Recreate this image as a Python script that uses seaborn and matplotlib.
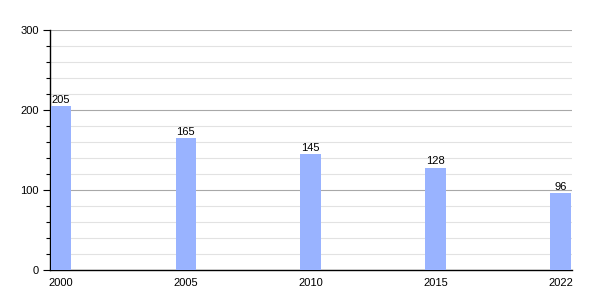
import matplotlib
matplotlib.use("Agg")
import matplotlib.pyplot as plt
import seaborn as sns
import pandas as pd
from matplotlib.ticker import MultipleLocator

years = ["2000", "2005", "2010", "2015", "2022"]
values = [205, 165, 145, 128, 96]

sns.set_style("white")
plt.rcParams['font.family'] = ['Liberation Sans', 'DejaVu Sans']
plt.rcParams['text.color'] = 'black'
plt.rcParams['xtick.color'] = 'black'
plt.rcParams['ytick.color'] = 'black'

df = pd.DataFrame({"year": years, "value": values})

fig = plt.figure(figsize=(6, 3), dpi=100)
ax = fig.add_axes([50/600, 30/300, 522/600, 240/300])

sns.barplot(data=df, x="year", y="value", color="#99b3ff", saturation=1,
            width=0.165, linewidth=0, ax=ax, zorder=3)

ax.set_xlim(-0.088, 4.092)
ax.set_ylim(0, 300)
ax.yaxis.set_major_locator(MultipleLocator(100))
ax.yaxis.set_minor_locator(MultipleLocator(20))
ax.grid(which="major", axis="y", color="#a8a8a8", linewidth=0.8, zorder=0)
ax.grid(which="minor", axis="y", color="#e2e2e2", linewidth=0.8, zorder=0)
ax.set_axisbelow(True)

for s in ["top", "right"]:
    ax.spines[s].set_visible(False)
ax.spines["left"].set_color("black")
ax.spines["bottom"].set_color("black")
ax.spines["left"].set_linewidth(1)
ax.spines["bottom"].set_linewidth(1)

ax.tick_params(axis="y", which="major", left=True, length=5, width=0.8, labelsize=8, pad=3, colors="black")
ax.tick_params(axis="y", which="minor", left=True, length=3, width=0.8, colors="black")
ax.tick_params(axis="x", bottom=False, labelsize=8, pad=2, colors="black")
ax.set_xlabel("")
ax.set_ylabel("")

for c in ax.containers:
    ax.bar_label(c, labels=[str(v) for v in values], fontsize=8, padding=1, color="black")

fig.savefig("out.png", dpi=100)
